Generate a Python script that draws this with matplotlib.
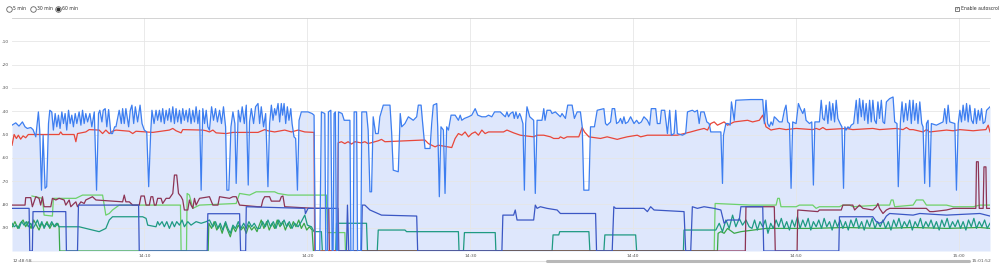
import matplotlib
matplotlib.use('Agg')
import matplotlib.pyplot as plt
from matplotlib.lines import Line2D

# time axis: minutes after 14:00, values: signal level (dBm)
blue_t = [1.87, 2.10, 2.30, 2.51, 2.67, 2.81, 3.02, 3.16, 3.33, 3.49, 3.57, 3.68, 3.78, 3.90, 4.00, 4.11, 4.19, 4.31,
          4.41, 4.52, 4.62, 4.72, 4.82, 4.93, 5.03, 5.13, 5.23, 5.34, 5.44, 5.54, 5.64, 5.75, 5.85, 5.99, 6.10, 6.20,
          6.30, 6.40, 6.51, 6.65, 6.77, 6.92, 7.06, 7.18, 7.26, 7.39, 7.47, 7.59, 7.69, 7.80, 7.94, 8.04, 8.17, 8.25,
          8.45, 8.58, 8.66, 8.76, 8.86, 9.03, 9.13, 9.23, 9.34, 9.44, 9.58, 9.73, 9.85, 9.99, 10.14, 10.26, 10.38,
          10.46, 10.59, 10.71, 10.81, 10.92, 11.02, 11.12, 11.22, 11.33, 11.43, 11.53, 11.63, 11.74, 11.84, 11.94,
          12.04, 12.15, 12.25, 12.35, 12.45, 12.56, 12.66, 12.76, 12.86, 12.97, 13.07, 13.17, 13.28, 13.38, 13.48,
          13.58, 13.69, 13.79, 13.89, 13.99, 14.12, 14.24, 14.36, 14.48, 14.61, 14.73, 14.85, 14.98, 15.06, 15.18,
          15.31, 15.43, 15.55, 15.63, 15.76, 15.88, 16.00, 16.13, 16.25, 16.37, 16.45, 16.56, 16.70, 16.82, 16.97,
          17.07, 17.17, 17.31, 17.44, 17.58, 17.68, 17.79, 17.89, 17.99, 18.07, 18.20, 18.30, 18.40, 18.48, 18.57,
          18.67, 18.77, 18.87, 18.98, 19.06, 19.18, 19.28, 19.39, 19.49, 19.63, 20.04, 20.29, 20.41, 20.49, 20.76,
          20.86, 21.07, 21.13, 21.23, 21.29, 21.44, 21.52, 21.58, 21.64, 21.72, 21.79, 21.85, 21.91, 22.13, 22.26,
          22.61, 22.67, 22.81, 22.87, 23.02, 23.08, 23.28, 23.34, 23.63, 23.73, 23.84, 23.94, 24.04, 24.19, 24.35,
          24.45, 24.66, 25.07, 25.17, 25.27, 25.58, 25.70, 25.79, 25.99, 26.20, 26.50, 26.71, 26.81, 26.98, 27.06,
          27.22, 27.53, 27.63, 27.73, 27.94, 28.00, 28.10, 28.20, 28.35, 28.45, 28.55, 28.66, 28.82, 29.07, 29.27,
          29.38, 29.48, 29.64, 29.89, 30.09, 30.30, 30.46, 30.71, 30.95, 31.12, 31.32, 31.49, 31.84, 32.04,
          32.15, 32.25, 32.35, 32.46, 32.62, 32.70, 32.80, 32.91, 33.03, 33.11, 33.23, 33.32, 33.40, 33.48, 33.65,
          33.89, 33.99, 34.10, 34.40, 34.51, 34.59, 34.71, 34.92, 35.02, 35.22, 35.53, 35.63, 35.84, 35.98, 36.25,
          36.39, 36.56, 36.76, 36.87, 36.97, 37.28, 37.38, 37.62, 37.79, 38.20, 38.30, 38.40, 38.61, 38.71, 38.86,
          38.98, 39.12, 39.22, 39.33, 39.43, 39.53, 39.68, 39.84, 40.05, 40.21, 40.35, 40.50, 40.66, 40.87, 41.01,
          41.11, 41.38, 41.48, 41.65, 41.73, 41.93, 42.03, 42.10, 42.24, 42.34, 42.51, 42.61, 42.71, 43.02, 43.22,
          43.33, 43.63, 43.78, 43.94, 44.05, 44.15, 44.35, 44.52, 44.66, 44.76, 45.38, 45.48, 45.54, 45.69, 45.83,
          45.95, 46.03, 46.20, 46.30, 47.22, 47.95, 48.05, 48.15, 48.25, 48.36, 48.46, 48.56, 48.66, 48.77, 48.97,
          49.14, 49.28, 49.38, 49.48, 49.59, 49.69, 49.79, 50.00, 50.14, 50.26, 50.41, 50.51, 50.61, 50.82, 50.96,
          51.06, 51.15, 51.43, 51.54, 51.64, 51.74, 51.84, 51.95, 52.05, 52.15, 52.25, 52.36, 52.46, 52.56, 52.70,
          52.81, 52.91, 52.99, 53.07, 53.18, 53.28, 53.38, 53.53, 53.69, 53.79, 53.89, 54.00, 54.10, 54.20, 54.30,
          54.41, 54.51, 54.61, 54.71, 54.82, 54.92, 55.02, 55.12, 55.23, 55.33, 55.43, 55.54, 55.74, 55.95, 56.05,
          56.19, 56.27, 56.40, 56.50, 56.60, 56.73, 56.83, 56.97, 57.07, 57.18, 57.28, 57.38, 57.48, 57.59, 57.71,
          57.79, 57.89, 58.00, 58.10, 58.20, 58.30, 58.61, 59.02, 59.12, 59.23, 59.33, 59.43, 59.74, 59.84, 59.95,
          60.05, 60.15, 60.25, 60.36, 60.46, 60.56, 60.66, 60.77, 60.87, 60.97, 61.07, 61.18, 61.28, 61.38, 61.48,
          61.59, 61.69, 61.79, 61.90]
blue_v = [-46, -45, -46.4, -44.6, -46.7, -47.4, -47, -47.9, -51, -40.3, -48.1, -73.9, -50.3, -73.1, -72.4, -45.3, -39.6,
          -40.3, -48.1, -41, -46.7, -41.7, -47.4, -40.3, -45.3, -41, -48.1, -39.6, -45.3, -41.7, -46.7, -41, -45.3,
          -40.3, -46, -39.6, -45.3, -41, -44.6, -41, -46.7, -40.3, -73.9, -41, -39.6, -44.6, -39.6, -38.9, -46.7,
          -39.3, -49.6, -49.6, -46.7, -46.7, -39.6, -45.3, -38.9, -45.3, -38.9, -46.7, -39.6, -37.4, -45.3, -38.1,
          -44.6, -37.4, -45.3, -48.1, -48.9, -72.4, -49.6, -39.6, -45.3, -39.6, -43.9, -39.6, -44.6, -38.9, -45.3,
          -39.6, -43.9, -38.9, -44.6, -38.1, -45.3, -38.9, -44.6, -39.6, -45.3, -38.9, -43.9, -39.6, -44.6, -38.9,
          -45.3, -39.6, -44.6, -38.1, -45.3, -39.6, -73.9, -38.9, -45.3, -39.6, -46.7, -48.1, -38.1, -43.9, -38.9,
          -44.6, -39.6, -45.3, -38.1, -46.7, -73.9, -73.9, -46.7, -40.3, -45.3, -71, -39.6, -44.6, -38.1, -45.3,
          -37.4, -71.7, -44.6, -38.9, -45.3, -38.1, -36.7,
          -45.3, -38.1, -46.7, -41, -72.4, -45.3, -37.4, -43.9, -38.9, -41.7, -36.7, -44.6, -36.7, -41.7, -36.7,
          -45.3, -38.1, -43.9, -38.9, -45.3, -51, -51.7, -73.9, -43.9, -40.3, -40.3, -41, -41.7, -100, -100,
          -40.3, -41, -100, -100, -40.3, -39.6, -100, -100, -41, -40.3, -100, -100, -40.3, -41, -43.9,
          -43.9, -100, -100, -40.3, -40.3, -100, -100, -40.3, -40.3, -48.1, -74.6, -74.6, -42.4, -49.6, -49.6,
          -42.4, -37.4, -37.4, -48.9, -65.3, -66, -41, -46.7, -45.3, -42.4, -43.9, -42.4, -37.4, -37.4, -43.9,
          -56, -56, -45.3, -37.4, -36.7, -46.7, -76.7, -46.7, -48.1, -75.3, -46.7, -48.1, -41.7, -41.7, -43.9,
          -41.7, -43.9, -43.1, -42.4, -41.7, -38.9, -41.7, -42.4, -42.4, -41.7, -42.4, -40.3, -40.3, -41.7,
          -42.4, -40.3, -42.4, -41, -40.3, -43.1, -40.3, -43.1, -41, -42.4, -45.3, -73.9, -45.3, -38.1, -42.4,
          -43.9, -75.3, -43.9, -43.9, -38.9, -43.9, -39.6, -39.6, -41, -40.3, -42.4, -41, -43.1, -37.4, -37.4,
          -43.1, -40.3, -40.3, -46.7, -73.9, -73.9, -46.7, -46.7, -39.6, -38.9, -45.3, -46, -44.6, -38.9, -38.9,
          -45.3, -44.6, -43.1, -45.3, -42.4, -45.3, -44.6, -42.4, -45.3, -43.9, -45.3, -44.6, -42.4, -43.9, -46,
          -38.9, -38.9, -45.3, -45.3, -39.6, -39.6, -45.3, -49.6, -39.6, -50.3, -49.6, -39.6, -49.6, -50.3, -49.6,
          -40.3, -39.6, -40.3, -39.6, -45.3, -40.3, -40.3, -44.6, -45.3, -48.9, -48.9, -71, -50.3, -45.3, -45.3,
          -46, -36, -43.9, -35.3, -35, -35, -45.3, -35.3, -45.3, -46.7, -44.6, -46, -42.4, -43.1, -44.6,
          -44.6, -39.6, -37.4, -44.6, -45.3, -73.1, -44.6, -45.3, -36.7, -38.9, -41, -38.9, -43.9, -45.3, -44.6,
          -71.7, -44.6, -44.6, -35.3, -43.1, -43.9, -37.4, -45.3, -36, -43.9, -36.7, -44.6, -35.3, -43.1, -45.3,
          -46.7, -73.1, -46.7, -48.1, -46.7, -47.4, -46, -45.3, -35.3, -45.3, -34.6, -42.4, -35.3, -43.9, -36.7,
          -45.3, -35.3, -44.6, -35.3, -43.9, -45.3, -36, -43.1, -35.3, -44.6, -45.3, -36, -34.6, -33.9, -44.6,
          -45.3, -72.4, -44.6, -36, -44.6, -36.7, -43.9, -35.3, -45.3, -35.3, -43.9, -36.7, -45.3, -36, -45.3,
          -46.7, -71, -45.3, -43.9, -72.4, -45.3, -46, -44.6, -38.9, -45.3, -37.4, -44.6, -45.3, -73.9, -45.3,
          -39.6, -44.6, -37.4, -43.9, -36.7, -44.6, -37.4, -43.9, -45.3, -38.9, -45.3, -39.6, -43.9, -38.9, -45.3,
          -44.6, -39.6, -38.9, -38.1]

red_t = [1.87, 2.00, 2.14, 2.26, 2.40, 2.55, 2.71, 2.87, 3.02, 4.76, 4.86, 4.97, 5.68, 5.79, 5.89, 6.40, 6.61, 7.22,
         7.43, 7.63, 7.84, 8.04, 8.25, 9.07, 9.28, 9.48, 10.51, 10.71, 11.53, 11.74, 11.94, 12.25, 12.35, 13.58,
         13.79, 13.99, 14.20, 14.40, 15.02, 15.43, 16.97, 17.38, 17.58, 17.99, 18.61, 19.02, 19.43, 19.84, 20.41,
         20.45, 21.85, 21.89, 22.09, 22.30, 22.50, 22.71, 22.91, 23.32, 23.53, 23.73, 24.14, 24.35, 24.55, 24.76,
         27.02, 27.22, 27.43, 27.63, 27.84, 28.04, 28.86, 29.07, 29.27, 29.48, 29.68, 29.89, 30.09, 30.30, 30.50,
         30.71, 30.91, 31.12, 32.04, 32.25, 32.66, 33.07, 33.89, 34.10, 34.51, 34.92, 35.12, 35.43, 35.53, 35.74,
         35.94, 36.66, 36.87, 37.01, 37.28, 37.99, 38.40, 38.81, 39.02, 39.22, 39.63, 40.25, 40.46, 40.87, 42.71,
         43.12, 43.53, 43.94, 44.35, 44.56, 44.76, 44.97, 45.17, 45.38, 45.58, 45.79, 45.99, 46.20, 47.02, 47.33,
         47.74, 47.95, 48.15, 48.46, 48.56, 48.97, 49.38, 50.00, 51.02, 51.23, 51.43, 51.64, 51.84, 53.07, 53.48,
         54.71, 55.12, 56.15, 56.56, 56.77, 56.97, 57.18, 57.79, 58.00, 58.20, 58.82, 59.23, 59.64, 60.05, 60.87,
         61.28, 61.65, 61.79, 61.90]
red_v = [-54.6, -50, -51.7, -50.3, -52, -50.6, -51.4, -50, -50, -50, -48.9, -50, -50, -53.1, -49.6, -48.9, -47.9,
         -48.1, -49.6, -48.1, -49.6, -48.6, -48.1, -48.6, -49.6, -48.6, -49.1, -48.9, -48.1, -47.4, -48.4, -49.3,
         -47.9, -48.1, -48.4, -48.9, -48.1, -49.3, -49.6, -49.1, -49.1, -47.9, -48.4, -48.9, -48.1, -48.9, -48.1,
         -48.9, -49.1, -100, -100, -53.6, -53.1, -53.9, -53.1, -54.1, -53.1, -53.6, -53.1, -53.9, -53.1, -52.7,
         -52.1, -53.1, -52.4, -52.4, -53.9, -54.6, -55.3, -54.6, -55.6, -51.7, -49.6, -50.3, -48.9, -51, -49.6,
         -48.9, -50.3, -48.1, -49.6, -48.9, -48.9, -48.1, -49.3, -50.3, -51, -50.3, -50.3, -51, -51.7, -51.7, -51,
         -51.7, -51, -51, -47, -48.9, -51, -51.7, -51, -51.7, -52.1, -51.7, -51, -50.3, -51, -50.3, -50.3, -49.6,
         -48.9, -48.1, -47.4, -48.1, -45.3, -44.6, -46, -45.3, -44.6, -46, -45.3, -44.6, -43.9, -44.6, -43.9,
         -41.7, -46.7, -48.1, -47.9, -47.4, -47.9, -47.4, -47.9, -47.4, -47.9, -47, -47.9, -47.4, -47.9, -47.4,
         -47.9, -47.4, -47.9, -47, -47.9, -47.9, -48.9, -47.9, -48.9, -48.4, -48.1, -48.4, -47.9, -48.4, -48.1,
         -47.9, -46, -48.9]

maroon_t = [1.87, 2.67, 2.71, 3.02, 3.12, 3.33, 3.53, 3.63, 3.74, 3.84, 4.25, 4.35, 4.56, 4.76, 5.07, 5.17, 5.38,
            5.48, 5.68, 5.79, 5.89, 6.10, 6.30, 6.40, 6.81, 7.02, 8.66, 8.76, 8.86, 9.07, 9.28, 9.68, 9.79, 9.99,
            10.10, 10.30, 10.40, 10.51, 10.61, 10.71, 10.81, 11.02, 11.12, 11.33, 11.53, 11.74, 11.84, 11.98, 12.09,
            12.25, 12.35, 12.45, 12.66, 12.76, 12.86, 12.97, 13.07, 13.17, 13.38, 13.99, 14.20, 14.51, 14.61, 15.22,
            15.43, 15.63, 15.84, 16.97, 17.17, 17.27, 17.38, 17.68, 17.79, 18.30, 18.40, 18.50, 18.61, 20.45, 21.31,
            21.35, 46.88, 46.92, 48.66, 48.72, 50.06, 50.10, 51.33, 51.43, 52.77, 52.87, 53.48, 53.59, 53.69, 53.89,
            54.10, 54.71, 54.92, 55.02, 55.12, 55.33, 55.54, 55.74, 57.99, 58.20, 58.41, 59.23, 59.64, 61.03, 61.07,
            61.18, 61.24, 61.48, 61.53, 61.65, 61.69, 61.90]
maroon_v = [-80.3, -80.3, -77.1, -77.1, -81, -76.7, -77.4, -80.3, -76.7, -81, -81, -77.4, -78.1, -77.4, -78.1,
            -80.3, -78.1, -81, -79.6, -78.9, -81, -78.9, -79.6, -78.1, -76.7, -78.1, -78.9, -76, -78.9, -78.9,
            -80.3, -80.3, -76.4, -76.4, -80.3, -80.3, -76.7, -76.7, -80.3, -80.3, -77.4, -77.4, -79.6, -77.4, -77.4,
            -75.3, -67.4, -67.4, -75.3, -76.7, -78.1, -82.4, -82.4, -78.1, -80.3, -81.7, -77.4, -80.3, -77.4, -76.7,
            -80.3, -80.3, -76.7, -77.4, -76.7, -76.7, -80.3, -81, -81, -78.1, -76.7, -76.7, -78.6, -78.6, -76.7,
            -76.4, -81, -81.7, -81.7, -100, -100, -81, -81, -100, -100, -82.4, -83.1, -82.4, -82.4, -80.3, -80.3,
            -82.4, -81.7, -80.3, -81.7, -82.4, -81, -79.6, -81.7, -83.9, -82.4, -81.7, -81.7, -83.1, -83.1, -82.4,
            -81.7, -81.7, -61.7, -61.7, -81.7, -81.7, -63.9, -63.9, -81.7, -81.7]

lgreen_t = [3.10, 3.74, 3.84, 4.35, 4.41, 5.79, 6.20, 7.43, 7.63, 7.84, 8.04, 8.45, 12.21, 12.25, 12.58, 12.62, 12.76,
            12.97, 13.38, 15.63, 15.84, 16.45, 16.86, 16.97, 17.99, 18.20, 18.81, 21.17, 21.23, 22.30, 22.34, 44.97,
            45.03, 47.22, 48.77, 48.87, 48.97, 49.07, 50.00, 50.20, 51.02, 51.23, 51.43, 52.66, 52.87, 53.28, 53.48,
            55.12, 55.74, 55.84, 55.95, 56.05, 57.18, 57.38, 57.79, 58.00, 59.23, 59.64, 60.87, 61.28, 61.90]
lgreen_v = [-76.4, -77.4, -84.6, -85, -77.4, -77.4, -76, -76, -84.6, -83.9, -82.4, -80.3, -80.3, -100, -100, -75.3,
            -76, -81.7, -80.3, -79.6, -75.3, -76, -74.6, -74.6, -74.6, -75.3, -76, -76, -92.1, -92.1, -100, -100,
            -79.6, -80.3, -80.3, -77.4, -77.4, -81, -81, -80.3, -80.3, -81.7, -81, -81, -80.3, -80.3, -81, -80.3,
            -80.3, -78.1, -78.1, -81, -80.3, -78.1, -78.1, -80.3, -80.3, -81, -81, -80.3, -80.3]

teal_t = [1.87, 2.00, 2.14, 2.30, 2.46, 2.61, 2.75, 2.87, 3.02, 3.16, 3.28, 3.43, 3.57, 3.70, 3.84, 3.98, 4.15, 4.31,
          4.45, 4.60, 4.76, 5.99, 6.40, 6.81, 7.22, 7.43, 7.63, 7.84, 8.04, 9.89, 10.10, 10.20, 10.71, 10.81, 10.92,
          11.08, 11.22, 11.37, 11.53, 11.70, 11.84, 11.98, 12.15, 12.31, 12.45, 12.66, 12.86, 13.17, 13.48, 13.79,
          13.99, 14.20, 14.36, 14.51, 14.65, 14.81, 14.98, 15.12, 15.27, 15.43, 15.59, 15.76, 15.92, 16.09, 16.25,
          16.41, 16.58, 16.74, 16.91, 17.09, 17.25, 17.42, 17.58, 17.74, 17.91, 18.07, 18.24, 18.40, 18.57, 18.73,
          18.89, 19.06, 19.22, 19.43, 19.63, 19.84, 20.00, 20.25, 20.41, 20.86, 20.92, 21.74, 21.79, 23.63, 23.69,
          24.29, 24.35, 25.99, 26.09, 29.27, 29.31, 29.58, 29.64, 31.53, 31.57, 35.02, 35.08, 35.43, 35.49, 37.28,
          37.34, 38.20, 38.26, 40.15, 40.21, 43.08, 43.12, 45.07, 45.28, 45.48, 45.69, 45.89, 46.10, 46.30, 46.51,
          46.71, 46.92, 47.12, 47.29, 47.45, 47.62, 47.78, 47.95, 48.11, 48.27, 48.44, 48.60, 48.77, 48.93, 49.09,
          49.26, 49.42, 49.59, 49.75, 49.91, 50.08, 50.24, 50.41, 50.57, 50.74, 50.90, 51.06, 51.23, 51.39, 51.56,
          51.72, 51.88, 52.05, 52.21, 52.38, 52.54, 52.70, 52.87, 53.03, 53.20, 53.36, 53.52, 53.69, 53.85, 54.02,
          54.18, 54.35, 54.51, 54.67, 54.84, 55.00, 55.16, 55.33, 55.49, 55.66, 55.82, 55.99, 56.15, 56.31, 56.48,
          56.64, 56.81, 56.97, 57.13, 57.30, 57.46, 57.63, 57.79, 57.96, 58.12, 58.28, 58.45, 58.61, 58.78, 58.94,
          59.10, 59.27, 59.43, 59.60, 59.76, 59.93, 60.09, 60.25, 60.42, 60.58, 60.75, 60.91, 61.07, 61.24, 61.40,
          61.57, 61.73, 61.90]
teal_v = [-88.1, -89.6, -88.9, -90.3, -87.4, -88.9, -87.4, -89.6, -88.1, -90.3, -88.9, -86.7, -89.6, -87.4, -90.3,
          -88.1, -89.6, -87.4, -89.6, -88.1, -89.6, -89.6, -90.3, -91, -91.7, -91, -90.3, -86.7, -85.3, -85.3, -86,
          -88.9, -89.6, -87.4, -88.9, -87.4, -89.6, -87.4, -90.3, -87.4, -89.6, -87.4, -88.9, -86.7, -89.6, -87.4,
          -88.9, -87.4, -88.1, -87.4, -86.7, -89.6, -87.4, -90.3, -88.1, -91, -87.4, -90.3, -92.4, -88.9, -90.3,
          -87.4, -90.3, -88.1, -90.3, -87.4, -89.6, -88.1, -90.3, -90.3, -87.4, -89.6, -86.7, -89.6, -87.4, -90.3,
          -86.7, -88.9, -86.7, -89.6, -87.4, -90.3, -88.1, -89.6, -87.4, -84.6, -88.9, -89.6, -91.7, -91.7, -100,
          -100, -88.1, -88.1, -100, -100, -91, -91, -91.7, -91.7, -100, -100, -92.1, -92.1, -100, -100, -93.1,
          -93.1, -91.7, -91.7, -100, -100, -93.1, -93.1, -100, -100, -91, -91, -88.1, -91.7, -86.7, -90.3, -84.6,
          -89.6, -86, -88.9, -86.7, -89.6, -90.3, -86.7, -91, -87.4, -89.6, -86.7, -92.4, -88.1, -90.3, -86.7,
          -89.6, -86, -90.3, -87.4, -91, -86.7, -89.6, -85.3, -90.3, -86.7, -89.6, -86, -91, -87.4, -89.6, -86.7,
          -90.3, -86, -89.6, -87.4, -91, -86.7, -89.6, -86.7, -90.3, -87.4, -91, -86.7, -89.6, -86, -90.3, -87.4,
          -91, -86.7, -89.6, -86, -90.3, -87.4, -89.6, -86.7, -90.3, -87.4, -91, -86.7, -89.6, -86, -90.3, -87.4,
          -89.6, -86.7, -91, -87.4, -89.6, -86, -90.3, -87.4, -89.6, -86.7, -90.3, -87.4, -91, -86.7, -89.6, -86,
          -90.3, -87.4, -89.6, -86.7, -90.3, -87.4, -91, -86.7, -89.6, -86, -90.3, -87.4, -89.6, -86.7, -90.3,
          -88.1]

green_t = [1.89, 2.05, 2.22, 2.38, 2.55, 2.71, 2.87, 3.04, 3.20, 3.37, 3.53, 3.70, 3.86, 4.02, 4.19, 4.35, 4.52,
           4.68, 4.76, 4.80, 13.91, 13.95, 14.12, 14.28, 14.44, 14.61, 14.77, 14.94, 15.10, 15.27, 15.43, 15.59,
           15.76, 15.92, 16.09, 16.25, 16.41, 16.58, 16.74, 16.91, 17.01, 17.17, 17.33, 17.50, 17.66, 17.83, 17.99,
           18.15, 18.32, 18.48, 18.65, 18.81, 18.98, 19.14, 19.30, 19.47, 19.63, 19.80, 19.96, 20.12, 20.29, 20.37,
           45.17, 45.21, 45.38, 45.58, 45.79, 46.20, 46.61, 48.15, 51.02, 53.07, 55.12, 57.18, 59.23, 61.28, 61.90]
green_v = [-89.6, -87.4, -90.3, -88.1, -86.7, -89.6, -87.4, -90.3, -86.7, -88.9, -91, -88.1, -89.6, -87.4, -90.3,
           -88.1, -89.6, -88.1, -89.6, -100, -100, -88.1, -90.3, -87.4, -91, -88.9, -92.4, -88.1, -91, -93.9,
           -89.6, -91.7, -88.9, -91, -89.6, -92.4, -88.9, -91, -89.6, -91.7, -89.6, -86.7, -90.3, -87.4, -91,
           -88.1, -90.3, -86.7, -89.6, -87.4, -91, -88.1, -90.3, -87.4, -89.6, -86.7, -90.3, -88.1, -91, -89.6,
           -91, -100, -100, -92.4, -91.7, -92.4, -90.3, -92.4, -91.7, -90.3, -90.3, -89.9, -90.3, -89.9, -90.3,
           -89.9, -90.3]

navy_t = [1.87, 2.92, 2.96, 3.12, 3.16, 5.17, 5.21, 5.89, 5.95, 9.64, 9.68, 13.85, 13.89, 15.84, 15.90, 16.21,
          16.25, 19.84, 19.88, 20.04, 21.89, 21.93, 22.40, 22.46, 22.54, 23.32, 23.37, 23.53, 23.84, 24.55, 26.71,
          26.77, 31.94, 32.00, 32.66, 32.76, 32.87, 33.89, 33.99, 34.10, 34.30, 34.71, 35.33, 35.53, 37.69, 37.75,
          38.71, 38.81, 38.92, 40.66, 40.87, 41.07, 41.28, 43.12, 43.22, 43.53, 43.63, 43.94, 44.35, 44.97, 45.38,
          45.58, 45.79, 46.51, 46.61, 47.95, 48.01, 52.62, 52.66, 54.71, 54.92, 55.12, 55.33, 55.54, 55.74, 57.18,
          57.59, 59.23, 61.28, 61.90]
navy_v = [-81.7, -81.7, -100, -100, -83.1, -83.1, -100, -100, -80.3, -80.3, -100, -100, -84, -84, -100, -100, -81,
          -81.7, -84, -81.7, -81.7, -100, -100, -80.3, -100, -100, -80.3, -80.3, -82.4, -84.6, -85, -100, -100,
          -84.6, -84.6, -82.4, -86.7, -86.7, -80.3, -81.7, -81, -81.7, -82.4, -83.9, -83.9, -100, -100, -81,
          -81.7, -81.7, -83.1, -81, -82.4, -83.1, -100, -100, -81, -81.7, -81, -81.7, -82.4, -88.1, -86.7, -86.7,
          -81, -81, -100, -100, -85.3, -85.3, -87.4, -88.1, -87.4, -85, -83.9, -84.6, -83.9, -84.6, -83.9, -85]

y_ticks = [-10, -20, -30, -40, -50, -60, -70, -80, -90]
x_ticks = [10, 20, 30, 40, 50, 60]
x_labels = ['14:10', '14:20', '14:30', '14:40', '14:50', '15:00']

W, H = 999, 266
fig = plt.figure(figsize=(W / 100, H / 100), dpi=100)
ax = fig.add_axes([12 / W, 15 / H, 978 / W, 233 / H])

ax.fill_between(blue_t, blue_v, -100, color='#4a7cf0', alpha=0.18, lw=0, zorder=1)

lw = 0.9
ax.plot(lgreen_t, lgreen_v, color='#6dd16b', lw=lw, zorder=3)
ax.plot(green_t, green_v, color='#3aa748', lw=lw, zorder=3)
ax.plot(teal_t, teal_v, color='#1f9a82', lw=lw, zorder=3)
ax.plot(maroon_t, maroon_v, color='#8c3455', lw=lw, zorder=3)
ax.plot(navy_t, navy_v, color='#3b57c4', lw=lw, zorder=3)
ax.plot(red_t, red_v, color='#e8473a', lw=lw, zorder=4)
ax.plot(blue_t, blue_v, color='#3d7ef0', lw=lw, zorder=5)

ax.set_xlim(1.87, 61.9)
ax.set_ylim(-100, 0)
ax.set_yticks(y_ticks)
ax.set_yticklabels([str(v) for v in y_ticks])
ax.set_xticks(x_ticks)
ax.set_xticklabels(x_labels)
ax.tick_params(length=0, labelsize=3.2, colors='#555555', pad=2)
ax.grid(True, color='#e6e6e6', lw=0.6, zorder=2)
for side in ['left', 'right', 'bottom']:
    ax.spines[side].set_visible(False)
ax.spines['top'].set_color('#cccccc')
ax.spines['top'].set_linewidth(0.6)

# controls along the top
def fx(px):
    return px / W

def fy(py):
    return 1 - py / H

for cx, lab in [(9, '5 min'), (33, '30 min'), (58, '60 min')]:
    fig.add_artist(Line2D([fx(cx)], [fy(9)], marker='o', markersize=4, mfc='white',
                          mec='#666666', mew=0.6, transform=fig.transFigure))
    fig.text(fx(cx + 4), fy(9), lab, fontsize=3.3, va='center', color='#333333')
fig.add_artist(Line2D([fx(58)], [fy(9)], marker='o', markersize=1.8, mfc='#333333',
                      mec='#333333', transform=fig.transFigure))

fig.add_artist(Line2D([fx(957)], [fy(9)], marker='s', markersize=3.5, mfc='white',
                      mec='#666666', mew=0.6, transform=fig.transFigure))
fig.text(fx(957), fy(9), '✓', fontsize=3, ha='center', va='center', color='#333333')
fig.text(fx(961), fy(9), 'Enable autoscroll', fontsize=3.3, va='center', color='#333333')

# scrollbar under the chart
fig.add_artist(Line2D([fx(30), fx(970)], [fy(261), fy(261)], color='#e3e3e3', lw=0.8,
                      transform=fig.transFigure))
fig.add_artist(Line2D([fx(547), fx(969)], [fy(261), fy(261)], color='#b8b8b8', lw=2.2,
                      solid_capstyle='round', transform=fig.transFigure))
fig.text(fx(13), fy(261), '12:48:58', fontsize=3.2, va='center', color='#555555')
fig.text(fx(991), fy(261), '15:01:52', fontsize=3.2, va='center', ha='right', color='#555555')

plt.savefig('out.png', dpi=100)
plt.close()
